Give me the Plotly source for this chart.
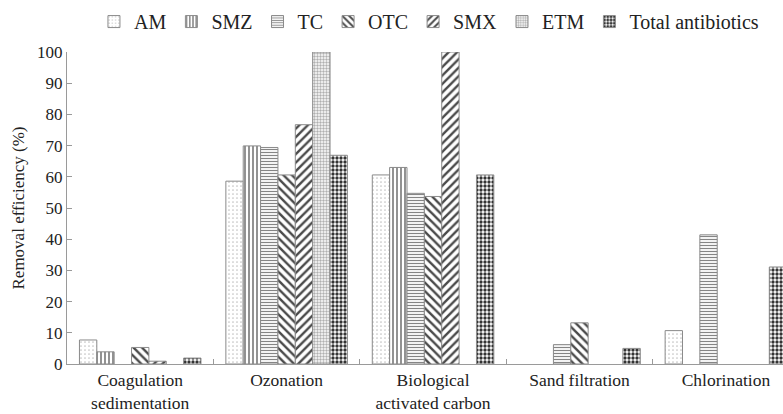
import plotly.graph_objects as go

# Treatment stages along the x axis
stages = [
    "Coagulation<br>sedimentation",
    "Ozonation",
    "Biological<br>activated carbon",
    "Sand filtration",
    "Chlorination",
]

# Removal efficiency (%) per antibiotic for each stage (None = no bar)
am = [7.7, 58.6, 60.6, None, 10.7]
smz = [3.9, 69.9, 63.0, None, None]
tc = [None, 69.4, 54.7, 6.2, 41.4]
otc = [5.3, 60.6, 53.7, 13.2, None]
smx = [0.9, 76.7, 100.0, None, None]
etm = [None, 100.0, None, None, None]
total = [1.9, 66.9, 60.6, 5.0, 31.1]

series_names = ["AM", "SMZ", "TC", "OTC", "SMX", "ETM", "Total antibiotics"]
series_values = [am, smz, tc, otc, smx, etm, total]

# Hatch style for each series: (shape, foreground colour, size, solidity)
hatches = [
    (".", "#c4c4c4", 4, 0.15),
    ("|", "#777777", 4, 0.4),
    ("-", "#858585", 3, 0.4),
    ("\\", "#4a4a4a", 6, 0.4),
    ("/", "#4a4a4a", 6, 0.4),
    (".", "#b0b0b0", 3, 0.5),
    (".", "#333333", 4, 0.55),
]

SERIF = "Liberation Serif, Tinos, DejaVu Serif, Noto Serif, serif"
TEXT = "#222222"
AXIS = "#9a9a9a"

fig = go.Figure()
for name, vals, (shape, fg, size, sol) in zip(series_names, series_values, hatches):
    fig.add_trace(
        go.Bar(
            name=name,
            x=stages,
            y=vals,
            marker=dict(
                color="white",
                line=dict(color="#8a8a8a", width=1),
                pattern=dict(
                    shape=shape,
                    fgcolor=fg,
                    bgcolor="white",
                    size=size,
                    solidity=sol,
                    fillmode="replace",
                ),
            ),
        )
    )

fig.update_layout(
    width=783,
    height=414,
    margin=dict(l=67, r=0, t=52, b=50),
    barmode="group",
    bargap=0.17,
    bargroupgap=0,
    plot_bgcolor="white",
    paper_bgcolor="white",
    font=dict(family=SERIF, size=16, color=TEXT),
    showlegend=True,
    legend=dict(
        orientation="h",
        xref="container",
        yref="container",
        x=0.12,
        y=0.995,
        xanchor="left",
        yanchor="top",
        font=dict(family=SERIF, size=20, color=TEXT),
        itemwidth=30,
        tracegroupgap=0,
    ),
)

fig.update_xaxes(
    range=[-0.5, 4.39],
    showline=True,
    linecolor=AXIS,
    linewidth=1,
    ticks="inside",
    tickson="boundaries",
    ticklen=5,
    tickcolor=AXIS,
    showgrid=False,
    tickfont=dict(family=SERIF, size=17.5, color=TEXT),
)

fig.update_yaxes(
    range=[0, 100],
    dtick=10,
    showline=True,
    linecolor=AXIS,
    linewidth=1,
    ticks="inside",
    ticklen=5,
    tickcolor=AXIS,
    showgrid=False,
    zeroline=False,
    tickfont=dict(family=SERIF, size=17, color=TEXT),
    title=dict(
        text="Removal efficiency (%)",
        font=dict(family=SERIF, size=17, color=TEXT),
        standoff=8,
    ),
)

fig.write_html("out.html")
